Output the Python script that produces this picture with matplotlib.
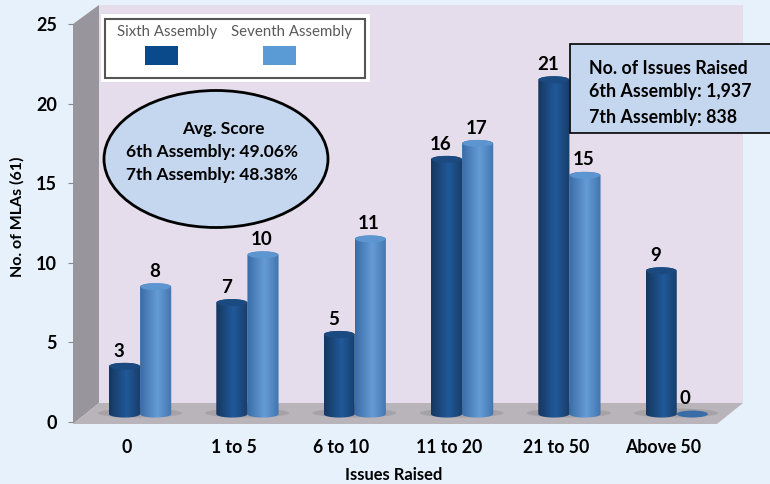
import numpy as np
import matplotlib
matplotlib.use("Agg")
import matplotlib.pyplot as plt
from matplotlib.patches import Ellipse, Polygon, Rectangle

categories = ["0", "1 to 5", "6 to 10", "11 to 20", "21 to 50", "Above 50"]
sixth = [3, 7, 5, 16, 21, 9]
seventh = [8, 10, 11, 17, 15, 0]
y_ticks = [0, 5, 10, 15, 20, 25]
series_names = ["Sixth Assembly", "Seventh Assembly"]
score_lines = ["Avg. Score", "6th Assembly: 49.06%", "7th Assembly: 48.38%"]
issue_lines = ["No. of Issues Raised", "6th Assembly: 1,937", "7th Assembly: 838"]

plt.rcParams["font.family"] = ["Lato", "DejaVu Sans"]
W, H = 770, 484
fig = plt.figure(figsize=(W / 100, H / 100), dpi=100, facecolor="#E6F1FB")

# backdrop in pixel coordinates: walls, floor, boxes
bg = fig.add_axes([0, 0, 1, 1])
bg.set_xlim(0, W)
bg.set_ylim(H, 0)
bg.axis("off")
bg.add_patch(Rectangle((99, 5), 644, 398, fc="#E5DDEB", ec="none"))
bg.add_patch(Polygon([(73, 24), (99, 5), (99, 403), (73, 424)], fc="#98959C", ec="none"))
bg.add_patch(Polygon([(99, 403), (743, 403), (717, 424), (73, 424)], fc="#B9B4BA", ec="none"))

# main axes, category 0 sits on x = 126 px
ax = fig.add_axes([73 / W, 1 - 422 / H, 644 / W, 398 / H])
ax.patch.set_visible(False)
for s in ax.spines.values():
    s.set_visible(False)

base = 0.5
bar_w = 0.29
cap_h = 0.22


def cylinder(x, value, edge, mid, cap, z):
    left, right = x - bar_w / 2, x + bar_w / 2
    top = base + value
    if value == 0:
        ax.add_patch(Ellipse((x, top), bar_w, cap_h * 2, fc=edge, ec="none", zorder=z))
        return
    t = np.linspace(0, np.pi, 30)
    xs = np.cos(t) * bar_w / 2 + x
    upper = np.column_stack([xs, top + np.sin(t) * cap_h])
    lower = np.column_stack([xs[::-1], base - np.sin(t[::-1]) * cap_h])
    shape = Polygon(np.vstack([upper, lower]), transform=ax.transData, fc="none", ec="none")
    ax.add_patch(shape)
    grad = np.linspace(0, 1, 40)
    grad = 1 - np.abs(grad - 0.55) / 0.55
    c0 = np.array(matplotlib.colors.to_rgb(edge))
    c1 = np.array(matplotlib.colors.to_rgb(mid))
    img = c0 + (c1 - c0) * grad[:, None]
    im = ax.imshow(img[None, :, :], extent=[left, right, base - cap_h, top + cap_h],
                   aspect="auto", zorder=z)
    im.set_clip_path(shape)
    ax.add_patch(Ellipse((x, top), bar_w * 0.97, cap_h * 2, fc=cap, ec="none", zorder=z + 0.1))


pos = np.arange(len(categories))
for i in pos:
    # floor shadow under each group
    bg.add_patch(Ellipse((126 + 107.2 * i + 14, 413), 84, 9, fc="#8F8A90", ec="none", alpha=0.45))
    cylinder(i + 0.27, seventh[i], "#3A6DA8", "#659CD6", "#5C95CF", 3)
    cylinder(i - 0.02, sixth[i], "#16375F", "#20599A", "#1B4A80", 4)
    ax.annotate(str(sixth[i]), (i - 0.02, sixth[i] + base), xytext=(-4, 11),
                textcoords="offset points", ha="center", va="center",
                fontsize=13.5, fontweight="bold", zorder=6)
    # the zero label sits a bit left of its flat bar
    dx = -5 if seventh[i] == 0 else -1
    ax.annotate(str(seventh[i]), (i + 0.27, seventh[i] + base), xytext=(dx, 11),
                textcoords="offset points", ha="center", va="center",
                fontsize=13.5, fontweight="bold", zorder=6)

ax.set_xlim(-0.5, 5.5)
ax.set_ylim(0, 25)
ax.set_xticks(pos)
ax.set_xticklabels(categories, fontsize=12.7, fontweight="bold")
ax.tick_params(axis="x", length=0, pad=12)
ax.set_yticks(y_ticks)
ax.set_yticklabels(y_ticks, fontsize=13, fontweight="bold")
ax.tick_params(axis="y", length=3.6, color="#8A8A8A", pad=8)
fig.text(17 / W, 1 - 217 / H, "No. of MLAs (61)", rotation=90, ha="center", va="center",
         fontsize=11.5, fontweight="bold")
fig.text(394 / W, 1 - 475 / H, "Issues Raised", ha="center", va="center",
         fontsize=11.9, fontweight="bold")

# overlays on top of the bars
top = fig.add_axes([0, 0, 1, 1])
top.set_xlim(0, W)
top.set_ylim(H, 0)
top.axis("off")

top.add_patch(Rectangle((101, 14), 269, 68, fc="white", ec="none"))
top.add_patch(Rectangle((105, 19), 260, 59, fc="white", ec="#555555", lw=1.5))
top.text(167, 32, series_names[0], ha="center", va="center", fontsize=10.8, color="#5A5A5A")
top.text(292, 32, series_names[1], ha="center", va="center", fontsize=10.8, color="#5A5A5A")
top.add_patch(Rectangle((145, 46), 33, 19, fc="#0B4A8A", ec="none"))
top.add_patch(Rectangle((263, 46), 33, 19, fc="#5B9BD5", ec="none"))

top.add_patch(Ellipse((216, 159), 224, 137, fc="#C5D7EF", ec="black", lw=2))
top.text(223, 129, score_lines[0], ha="center", va="center", fontsize=12.5, fontweight="bold")
top.text(212, 152, score_lines[1], ha="center", va="center", fontsize=12.5, fontweight="bold")
top.text(212, 175, score_lines[2], ha="center", va="center", fontsize=12.5, fontweight="bold")

top.add_patch(Rectangle((570, 44), 205, 89, fc="#C5D7EF", ec="black", lw=1.2))
for line, y in zip(issue_lines, [68, 92, 117]):
    top.text(589, y, line, ha="left", va="center", fontsize=12.8, fontweight="bold")

fig.savefig("out.png", dpi=100, facecolor=fig.get_facecolor())
